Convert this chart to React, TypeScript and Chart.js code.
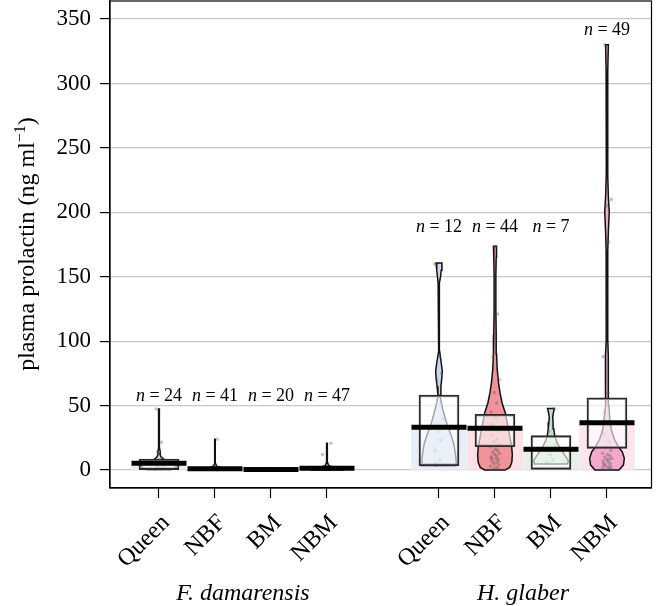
import React, { useEffect, useRef } from "react";
import { Chart, registerables } from "chart.js";

Chart.register(...registerables);

// ---------- data ----------
const groupNames = ["Queen", "NBF", "BM", "NBM", "Queen", "NBF", "BM", "NBM"];
const groupSlots = [0, 1, 2, 3, 5, 6, 7, 8];
const speciesNames = ["F. damarensis", "H. glaber"];
const speciesCentres = [1.5, 6.5];
const sampleSizes = [24, 41, 20, 47, 12, 44, 7, 49];
const meanValues = [5.2, 0.9, 0.3, 1.3, 33.1, 32.3, 16.0, 36.7];
const boxLower = [0.3, 0.2, 0.1, 0.3, 3.3, 18.1, 0.5, 16.8];
const boxUpper = [8.5, 1.6, 0.6, 2.2, 58.1, 43.2, 26.6, 56.0];
const nLabelLevels = [57, 57, 57, 57, 188, 188, 188, 341];
const yTickValues = [0, 50, 100, 150, 200, 250, 300, 350];

// violin profiles: [value, relative density]
const violinFdQueen = [[0.3, 0.7], [2, 1.0], [4, 0.95], [6, 0.6], [8, 0.3], [10, 0.12], [12, 0.06], [14, 0.07], [17, 0.03], [21, 0.04], [25, 0.015], [35, 0.01], [47.3, 0.02]];
const violinFdNBF = [[0, 0.9], [0.5, 1.0], [1.2, 0.7], [2, 0.3], [3, 0.1], [5, 0.03], [8, 0.01], [15, 0.01], [23.8, 0.02]];
const violinFdBM = [[0, 1.0], [0.3, 0.9], [0.7, 0.4], [1.1, 0.1]];
const violinFdNBM = [[0, 0.9], [0.5, 1.0], [1.3, 0.75], [2.2, 0.35], [3.5, 0.1], [6, 0.03], [10, 0.02], [15, 0.02], [20.7, 0.02]];
const violinHgQueen = [[3.5, 1.0], [10, 0.97], [20, 0.86], [28, 0.67], [36, 0.45], [44, 0.28], [52, 0.13], [58, 0.06], [65, 0.11], [72, 0.17], [77, 0.19], [84, 0.12], [92, 0.04], [100, 0.01], [120, 0.008], [138, 0.02], [145, 0.05], [150, 0.09], [155, 0.13], [160.7, 0.17]];
const violinHgNBF = [[0, 0.6], [2, 0.85], [6, 0.97], [12, 1.0], [18, 0.96], [26, 0.85], [34, 0.74], [44, 0.6], [52, 0.41], [60, 0.29], [68, 0.2], [78, 0.13], [90, 0.09], [105, 0.07], [125, 0.05], [150, 0.05], [165, 0.07], [173.6, 0.09]];
const violinHgBM = [[4.6, 0.95], [7, 1.0], [10, 0.87], [14, 0.67], [18, 0.48], [22, 0.33], [27, 0.21], [32, 0.16], [37, 0.12], [41, 0.1], [44.5, 0.14], [47.8, 0.2]];
const violinHgNBM = [[0, 0.7], [4, 0.95], [9, 1.0], [14, 0.88], [18, 0.66], [24, 0.42], [31, 0.25], [40, 0.16], [50, 0.11], [60, 0.08], [75, 0.06], [88, 0.09], [100, 0.05], [130, 0.04], [170, 0.05], [185, 0.08], [200, 0.13], [212, 0.08], [230, 0.04], [270, 0.04], [310, 0.05], [330, 0.08]];
const violinProfiles = [violinFdQueen, violinFdNBF, violinFdBM, violinFdNBM, violinHgQueen, violinHgNBF, violinHgBM, violinHgNBM];

// individual observations (visible ones)
const pointsFdQueen = [47.3, 21.5, 13.7, 9, 7, 5, 4, 3, 2, 1.5, 1, 0.5];
const pointsFdNBF = [23.8, 3, 1.5, 1, 0.5, 0.3];
const pointsFdBM = [1, 0.5, 0.2];
const pointsFdNBM = [20.7, 12, 3, 1.5, 1, 0.5];
const pointsHgQueen = [160, 88, 75, 70, 40, 30, 23, 15, 8, 5, 4, 3.5];
const pointsHgNBF = [173.6, 121, 88, 70, 60, 52, 45, 40, 35, 30, 27, 24, 22, 20, 18, 16, 15, 14, 13, 12, 11, 10, 9, 9, 8, 7, 6, 5, 4, 3, 2, 1, 0.5];
const pointsHgBM = [47.5, 30, 20, 12, 8, 6, 4.6];
const pointsHgNBM = [330, 210, 205, 177, 88, 60, 45, 35, 28, 22, 18, 15, 13, 12, 11, 10, 9, 8, 8, 7, 6, 5, 5, 4, 3, 3, 2, 2, 1, 0.5];
const pointSets = [pointsFdQueen, pointsFdNBF, pointsFdBM, pointsFdNBM, pointsHgQueen, pointsHgNBF, pointsHgBM, pointsHgNBM];

// ---------- styles ----------
const SERIF = '"Liberation Serif", "Times New Roman", serif';
const violinFill = ["#c9d8ee", "#f0939a", "#bfe0c8", "#f4a9cc"];
const barFill = ["#e8eef8", "#fde2e5", "#e4f2e7", "#fde5ef"];
const VIOLIN_HALF = 0.31;
const jitter = [-0.05, 0.04, -0.02, 0.07, -0.08, 0.01, 0.05, -0.04, 0.08, -0.01, 0.03, -0.07, 0.02, -0.06, 0.06];

function buildViolin(profile: number[][], slot: number) {
  const right = profile.map(([v, d]) => ({ x: slot + d * VIOLIN_HALF, y: v }));
  const left = profile.slice().reverse().map(([v, d]) => ({ x: slot - d * VIOLIN_HALF, y: v }));
  return [...right, ...left, right[0]];
}

const textPlugin = {
  id: "texts",
  afterDatasetsDraw(chart: any) {
    const { ctx, chartArea: a, scales } = chart;
    const x = scales.x;
    const y = scales.y;
    ctx.save();
    ctx.strokeStyle = "#000";
    ctx.lineWidth = 1.2;
    ctx.strokeRect(a.left, a.top, a.right - a.left, a.bottom - a.top);

    ctx.fillStyle = "#000";
    ctx.textBaseline = "middle";
    ctx.textAlign = "left";
    const fi = `italic 18px ${SERIF}`;
    const fr = `18px ${SERIF}`;
    groupSlots.forEach((s, i) => {
      const cx = x.getPixelForValue(s);
      const cy = y.getPixelForValue(nLabelLevels[i]);
      const rest = " = " + sampleSizes[i];
      ctx.font = fi;
      const w1 = ctx.measureText("n").width;
      ctx.font = fr;
      const w2 = ctx.measureText(rest).width;
      const sx = cx - (w1 + w2) / 2;
      ctx.font = fi;
      ctx.fillText("n", sx, cy);
      ctx.font = fr;
      ctx.fillText(rest, sx + w1, cy);
    });
    ctx.restore();
  },
  afterDraw(chart: any) {
    const { ctx, scales } = chart;
    const x = scales.x;
    ctx.save();
    ctx.fillStyle = "#000";
    ctx.font = `italic 24px ${SERIF}`;
    ctx.textAlign = "center";
    ctx.textBaseline = "alphabetic";
    speciesNames.forEach((nm, i) => {
      ctx.fillText(nm, x.getPixelForValue(speciesCentres[i]), 600);
    });
    ctx.translate(34, 244);
    ctx.rotate(-Math.PI / 2);
    const big = `24px ${SERIF}`;
    const small = `16px ${SERIF}`;
    const parts: [string, string, number][] = [
      ["plasma prolactin (ng ml", big, 0],
      ["\u22121", small, -9],
      [")", big, 0],
    ];
    let total = 0;
    parts.forEach(([t, f]) => {
      ctx.font = f;
      total += ctx.measureText(t).width;
    });
    let px = -total / 2;
    ctx.textAlign = "left";
    parts.forEach(([t, f, dy]) => {
      ctx.font = f;
      ctx.fillText(t, px, dy);
      px += ctx.measureText(t).width;
    });
    ctx.restore();
  },
};

export default function App() {
  const ref = useRef<HTMLCanvasElement | null>(null);

  useEffect(() => {
    if (!ref.current) return;

    const bgBars = {
      type: "bar",
      data: groupSlots.map((s, i) => ({ x: s, y: [0, meanValues[i]] })),
      backgroundColor: groupSlots.map((_, i) => barFill[i % 4]),
      borderWidth: 0,
      barThickness: 55,
      grouped: false,
      order: 6,
    };

    const violins = violinProfiles.map((prof, i) => ({
      type: "line",
      data: buildViolin(prof, groupSlots[i]),
      fill: "shape",
      backgroundColor: violinFill[i % 4],
      borderColor: "#111",
      borderWidth: 1.5,
      pointRadius: 0,
      tension: 0,
      order: 5,
    }));

    const pts: { x: number; y: number }[] = [];
    pointSets.forEach((set, gi) => {
      set.forEach((v, k) => {
        pts.push({ x: groupSlots[gi] + jitter[(k + gi) % jitter.length], y: v });
      });
    });
    const points = {
      type: "scatter",
      data: pts,
      pointRadius: 1.8,
      backgroundColor: "rgba(90,90,90,0.35)",
      borderWidth: 0,
      order: 4,
    };

    const boxes = {
      type: "bar",
      data: groupSlots.map((s, i) => ({ x: s, y: [boxLower[i], boxUpper[i]] })),
      backgroundColor: "rgba(255,255,255,0.62)",
      borderColor: "#2a2a2a",
      borderWidth: 1.8,
      borderSkipped: false,
      barThickness: 40,
      grouped: false,
      order: 3,
    };

    const means = {
      type: "scatter",
      data: groupSlots.map((s, i) => ({ x: s, y: meanValues[i] })),
      pointStyle: "line",
      pointRadius: 27.5,
      pointHoverRadius: 27.5,
      borderColor: "#000",
      borderWidth: 5,
      order: 1,
    };

    const chart = new Chart(ref.current, {
      type: "bar",
      data: { datasets: [bgBars, ...violins, points, boxes, means] as any },
      options: {
        responsive: false,
        animation: false,
        devicePixelRatio: 1,
        layout: { autoPadding: false, padding: { top: 1, right: 4.5, bottom: 0, left: 0 } },
        plugins: { legend: { display: false }, tooltip: { enabled: false } },
        scales: {
          x: {
            type: "linear",
            offset: false,
            min: -0.875,
            max: 8.795,
            afterBuildTicks: (s: any) => {
              s.ticks = groupSlots.map((v) => ({ value: v }));
            },
            ticks: {
              autoSkip: false,
              maxRotation: 45,
              minRotation: 45,
              padding: 11,
              labelOffset: 7,
              color: "#000",
              font: { family: SERIF, size: 24 },
              callback: (_v: any, idx: number) => groupNames[idx] ?? "",
            },
            grid: { offset: false, drawOnChartArea: false, drawTicks: true, tickLength: 10, tickColor: "#000", tickWidth: 1.2 },
            border: { display: true, color: "#000", width: 1.2 },
            afterFit: (s: any) => {
              s.height = 118;
              s.paddingLeft = 0;
              s.paddingRight = 0;
              s.paddingTop = 0;
              s.paddingBottom = 0;
            },
          },
          y: {
            type: "linear",
            min: -14,
            max: 364,
            afterBuildTicks: (s: any) => {
              s.ticks = yTickValues.map((v) => ({ value: v }));
            },
            ticks: {
              padding: 9,
              color: "#000",
              font: { family: SERIF, size: 23 },
              callback: (v: any) => String(v),
            },
            grid: { color: "#c8c8c8", lineWidth: 1.2, drawTicks: true, tickLength: 10, tickColor: "#000", tickWidth: 1.2 },
            border: { display: true, color: "#000", width: 1.2 },
            afterFit: (s: any) => {
              s.width = 110;
              s.paddingTop = 0;
              s.paddingBottom = 0;
            },
          },
        },
      } as any,
      plugins: [textPlugin],
    });

    return () => chart.destroy();
  }, []);

  return (
    <div style={{ position: "absolute", left: 0, top: 0, width: 656, height: 606, background: "#fff" }}>
      <canvas ref={ref} width={656} height={606} style={{ display: "block" }} />
    </div>
  );
}
